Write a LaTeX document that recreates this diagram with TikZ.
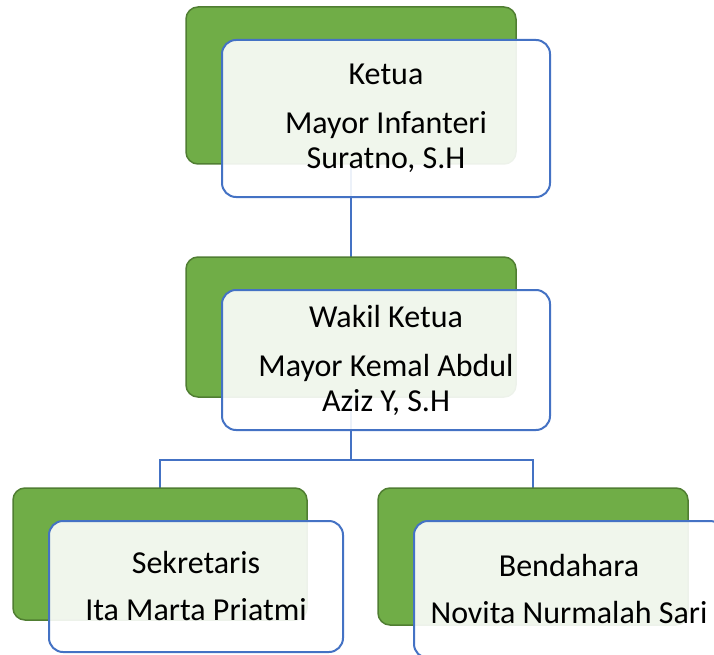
\documentclass[tikz,border=0pt]{standalone}
\usepackage{fontspec}
\setmainfont{Carlito}
\usetikzlibrary{backgrounds}

\definecolor{leafgreen}{HTML}{70AD47}
\definecolor{leafdark}{HTML}{507E32}
\definecolor{officeblue}{HTML}{4472C4}

\begin{document}
\begin{tikzpicture}[x=1pt,y=-1pt,
    greenbox/.style={draw=leafdark,line width=1.5pt,fill=leafgreen,rounded corners=12pt,inner sep=0pt},
    whitebox/.style={draw=officeblue,line width=2pt,fill=white,fill opacity=0.9,text opacity=1,rounded corners=14pt,inner sep=0pt,align=center,font=\fontsize{32}{35}\selectfont},
    link/.style={draw=officeblue,line width=2pt}]
    \useasboundingbox (0,0) rectangle (714,655);
    \node[greenbox,minimum width=330pt,minimum height=157pt] (g1) at (351,85.5) {};
    \node[greenbox,minimum width=330pt,minimum height=140pt] (g2) at (351,327) {};
    \node[greenbox,minimum width=294pt,minimum height=132pt] (g3) at (160,554) {};
    \node[greenbox,minimum width=310pt,minimum height=137pt] (g4) at (533,556.5) {};
    \coordinate (split) at (351,460);
    \begin{scope}[on background layer]
    \draw[link] (g1.center) -- (g2.center);
    \draw[link] (g2.center) -- (split);
    \draw[link] (split) -| (g3.center);
    \draw[link] (split) -| (g4.center);
    \end{scope}
    \node[whitebox,minimum width=328pt,minimum height=157pt] (w1) at (386,118.5)
        {Ketua\\[14pt]Mayor Infanteri\\Suratno, S.H};
    \node[whitebox,minimum width=328pt,minimum height=140pt] (w2) at (386,360)
        {Wakil Ketua\\[14pt]Mayor Kemal Abdul\\Aziz Y, S.H};
    \node[whitebox,minimum width=294pt,minimum height=131pt] (w3) at (196,586.5)
        {Sekretaris\\[12pt]Ita Marta Priatmi};
    \node[whitebox,minimum width=310pt,minimum height=137pt] (w4) at (569,589.5)
        {Bendahara\\[12pt]Novita Nurmalah Sari};
\end{tikzpicture}
\end{document}
